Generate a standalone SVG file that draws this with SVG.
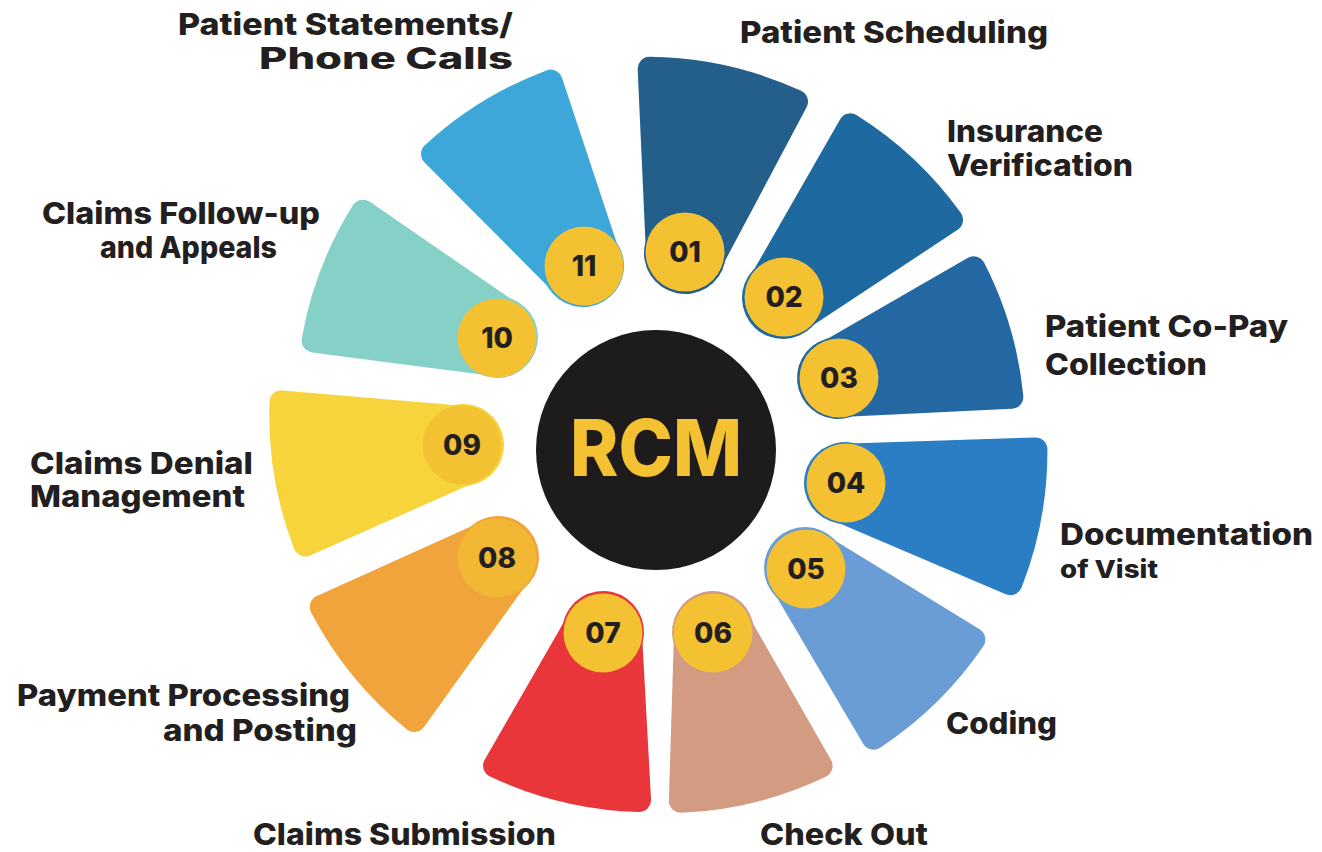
<svg xmlns="http://www.w3.org/2000/svg" width="1322" height="852" viewBox="0 0 1322 852">
<style>
.lbl{font-family:Inter,"Open Sans","DejaVu Sans",sans-serif;font-weight:800;font-size:30px;fill:#231f20}
.num{font-family:Inter,"Open Sans","DejaVu Sans",sans-serif;font-weight:800;font-size:28px;fill:#231f20;text-anchor:middle}
.badge{fill:#f4c132}
.pet{stroke-width:24;stroke-linejoin:round}
</style>
<rect width="1322" height="852" fill="#ffffff"/>
<g id="step-01">
<g transform="translate(685,253) rotate(12.7)" fill="#245e8a" stroke="#245e8a"><path class="pet" d="M-75,-172 A360,360 0 0 1 75,-172 L28,0 L-28,0 Z"/><circle r="41" stroke="none"/></g>
<circle class="badge" cx="685" cy="252" r="39.5"/><text class="num" x="685" y="262">01</text>
<text class="lbl" x="740" y="43" textLength="308" lengthAdjust="spacingAndGlyphs">Patient Scheduling</text>
</g>
<g id="step-02">
<g transform="translate(783,298) rotate(43.2)" fill="#1f69a1" stroke="#1f69a1"><path class="pet" d="M-69,-172 A360,360 0 0 1 69,-172 L28,0 L-28,0 Z"/><circle r="41" stroke="none"/></g>
<circle class="badge" cx="784" cy="297" r="39.5"/><text class="num" x="784" y="307">02</text>
<text class="lbl" x="947" y="142" textLength="156" lengthAdjust="spacingAndGlyphs">Insurance</text>
<text class="lbl" x="947" y="176" textLength="186" lengthAdjust="spacingAndGlyphs">Verification</text>
</g>
<g id="step-03">
<g transform="translate(838,378) rotate(73.6)" fill="#2368a3" stroke="#2368a3"><path class="pet" d="M-67,-161 A360,360 0 0 1 67,-161 L28,0 L-28,0 Z"/><circle r="41" stroke="none"/></g>
<circle class="badge" cx="839" cy="378" r="39.5"/><text class="num" x="839" y="388">03</text>
<text class="lbl" x="1045" y="337" textLength="243" lengthAdjust="spacingAndGlyphs">Patient Co-Pay</text>
<text class="lbl" x="1045" y="375" textLength="162" lengthAdjust="spacingAndGlyphs">Collection</text>
</g>
<g id="step-04">
<g transform="translate(845,483) rotate(100.6)" fill="#2b7ec4" stroke="#2b7ec4"><path class="pet" d="M-68,-181 A360,360 0 0 1 68,-181 L28,0 L-28,0 Z"/><circle r="41" stroke="none"/></g>
<circle class="badge" cx="846" cy="483" r="39.5"/><text class="num" x="846" y="493">04</text>
<text class="lbl" x="1060" y="545" textLength="253" lengthAdjust="spacingAndGlyphs">Documentation</text>
<text class="lbl" x="1060" y="578" style="font-size:25px" textLength="98" lengthAdjust="spacingAndGlyphs">of Visit</text>
</g>
<g id="step-05">
<g transform="translate(805,568) rotate(135.5)" fill="#6a9cd5" stroke="#6a9cd5"><path class="pet" d="M-70,-169 A360,360 0 0 1 70,-169 L28,0 L-28,0 Z"/><circle r="41" stroke="none"/></g>
<circle class="badge" cx="806" cy="569" r="39.5"/><text class="num" x="806" y="579">05</text>
<text class="lbl" x="946" y="734" textLength="111" lengthAdjust="spacingAndGlyphs">Coding</text>
</g>
<g id="step-06">
<g transform="translate(713,632) rotate(166)" fill="#d39b82" stroke="#d39b82"><path class="pet" d="M-72,-156 A360,360 0 0 1 72,-156 L28,0 L-28,0 Z"/><circle r="41" stroke="none"/></g>
<circle class="badge" cx="713" cy="633" r="39.5"/><text class="num" x="713" y="643">06</text>
<text class="lbl" x="760" y="845" textLength="168" lengthAdjust="spacingAndGlyphs">Check Out</text>
</g>
<g id="step-07">
<g transform="translate(603,632) rotate(193.4)" fill="#e9363b" stroke="#e9363b"><path class="pet" d="M-74,-155 A360,360 0 0 1 74,-155 L28,0 L-28,0 Z"/><circle r="41" stroke="none"/></g>
<circle class="badge" cx="603" cy="633" r="39.5"/><text class="num" x="603" y="643">07</text>
<text class="lbl" x="253" y="845" textLength="303" lengthAdjust="spacingAndGlyphs">Claims Submission</text>
</g>
<g id="step-08">
<g transform="translate(498,557) rotate(230.7)" fill="#f1a43b" stroke="#f1a43b"><path class="pet" d="M-73,-168 A360,360 0 0 1 73,-168 L28,0 L-28,0 Z"/><circle r="41" stroke="none"/></g>
<circle cx="497" cy="558" r="39.5" fill="#f2b834"/><text class="num" x="497" y="568">08</text>
<text class="lbl" x="17" y="706" textLength="333" lengthAdjust="spacingAndGlyphs">Payment Processing</text>
<text class="lbl" x="163" y="741" textLength="194" lengthAdjust="spacingAndGlyphs">and Posting</text>
</g>
<g id="step-09">
<g transform="translate(463,445) rotate(260.5)" fill="#f7d43c" stroke="#f7d43c"><path class="pet" d="M-72,-172 A360,360 0 0 1 72,-172 L28,0 L-28,0 Z"/><circle r="41" stroke="none"/></g>
<circle cx="462" cy="445" r="39.5" fill="#f2c232"/><text class="num" x="462" y="455">09</text>
<text class="lbl" x="30" y="474" textLength="223" lengthAdjust="spacingAndGlyphs">Claims Denial</text>
<text class="lbl" x="30" y="507" textLength="215" lengthAdjust="spacingAndGlyphs">Management</text>
</g>
<g id="step-10">
<g transform="translate(497,337) rotate(291)" fill="#86d1c7" stroke="#86d1c7"><path class="pet" d="M-69,-170 A360,360 0 0 1 69,-170 L28,0 L-28,0 Z"/><circle r="41" stroke="none"/></g>
<circle class="badge" cx="497" cy="338" r="39.5"/><text class="num" x="497" y="348">10</text>
<text class="lbl" x="42" y="224" textLength="278" lengthAdjust="spacingAndGlyphs">Claims Follow-up</text>
<text class="lbl" x="100" y="258" textLength="177" lengthAdjust="spacingAndGlyphs">and Appeals</text>
</g>
<g id="step-11">
<g transform="translate(583,266) rotate(328.4)" fill="#3da7d9" stroke="#3da7d9"><path class="pet" d="M-69,-174 A360,360 0 0 1 69,-174 L28,0 L-28,0 Z"/><circle r="41" stroke="none"/></g>
<circle class="badge" cx="584" cy="266" r="39.5"/><text class="num" x="584" y="276">11</text>
<text class="lbl" x="178" y="35" textLength="335" lengthAdjust="spacingAndGlyphs">Patient Statements/</text>
<text class="lbl" x="259" y="69" textLength="254" lengthAdjust="spacingAndGlyphs">Phone Calls</text>
</g>
<g id="center">
<circle cx="656" cy="450" r="120" fill="#1e1b1c"/>
<text x="656" y="476" text-anchor="middle" textLength="172" lengthAdjust="spacingAndGlyphs" style="font-family:Inter,'Open Sans','DejaVu Sans',sans-serif;font-weight:800;font-size:78px;fill:#f4c132">RCM</text>
</g>
<g id="connectors"/>
</svg>
